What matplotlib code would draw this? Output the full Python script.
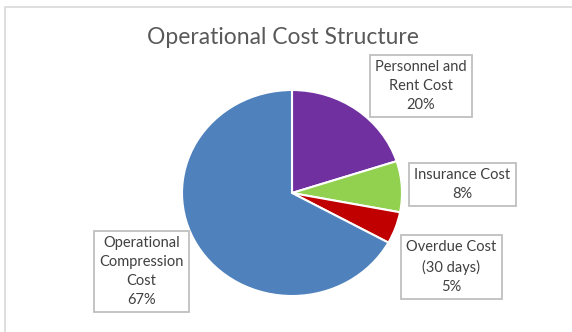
import matplotlib
matplotlib.use("Agg")
import matplotlib.pyplot as plt
from matplotlib.patches import Rectangle

# cost shares, clockwise from 12 o'clock
categories = ["Personnel and\nRent Cost", "Insurance Cost", "Overdue Cost\n(30 days)",
              "Operational\nCompression\nCost"]
shares = [20, 8, 5, 67]
colors = ["#7030A0", "#92D050", "#C00000", "#4F81BD"]

# label box centres in pie data units
label_pos = [(1.17, 1.04), (1.55, 0.08), (1.45, -0.72), (-1.37, -0.76)]

plt.rcParams["font.family"] = ["Lato", "DejaVu Sans"]

W, H = 572, 332
fig = plt.figure(figsize=(W / 100, H / 100), dpi=100)

# chart frame
fig.patches.append(Rectangle((5 / W, -0.1), 1.1, (H - 7) / H + 0.1, transform=fig.transFigure,
                             fill=False, edgecolor="#d9d9d9", linewidth=1.2))

fig.text(283 / W, 1 - 37 / H, "Operational Cost Structure", ha="center", va="center",
         fontsize=16.5, color="#595959")

cx, cy, rx, ry = 292, 193, 110, 103
ax = fig.add_axes([(cx - rx) / W, (H - cy - ry) / H, 2 * rx / W, 2 * ry / H])
ax.pie(shares, colors=colors, startangle=90, counterclock=False,
       wedgeprops=dict(edgecolor="white", linewidth=1.5))
ax.set_aspect("auto")
ax.set_xlim(-1, 1)
ax.set_ylim(-1, 1)
ax.axis("off")

for name, val, (lx, ly) in zip(categories, shares, label_pos):
    ax.text(lx, ly, f"{name}\n{val}%", ha="center", va="center", fontsize=10.5,
            color="#404040", linespacing=1.45, clip_on=False,
            bbox=dict(boxstyle="square,pad=0.35", facecolor="white",
                      edgecolor="#bfbfbf", linewidth=1.3))

fig.savefig("out.png", dpi=100)
